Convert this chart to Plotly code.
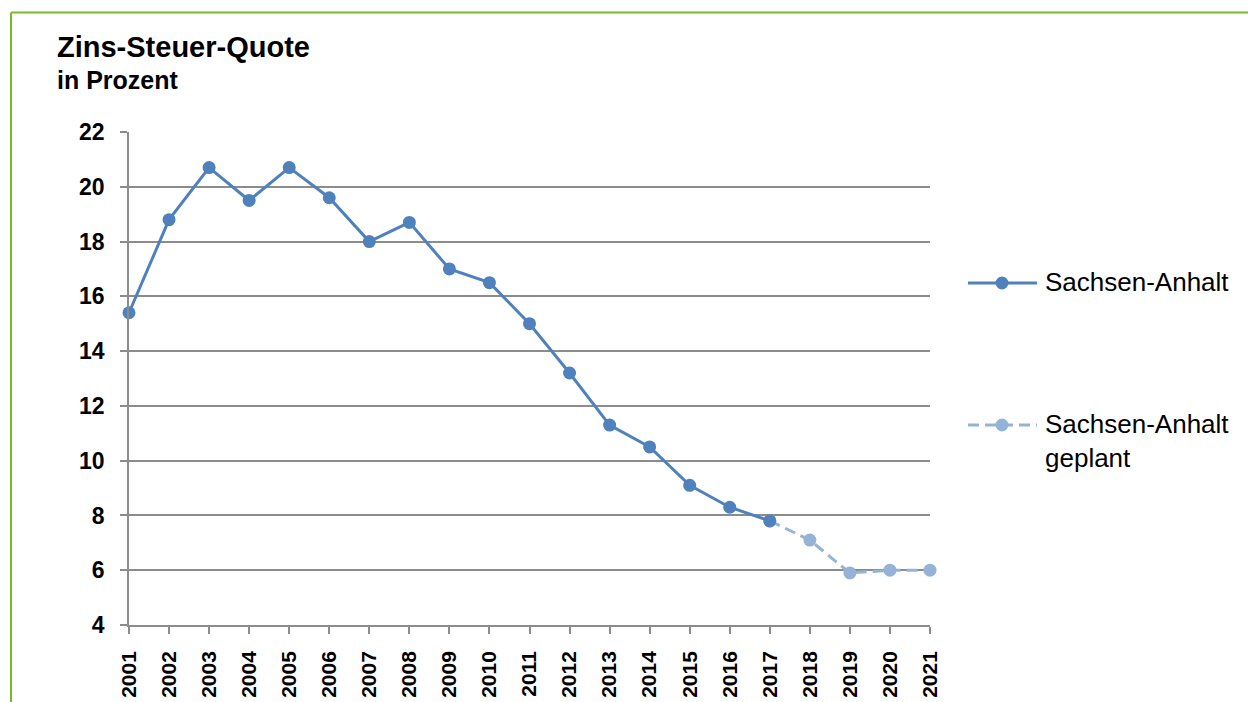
import plotly.graph_objects as go

# Zins-Steuer-Quote Sachsen-Anhalt (in Prozent)
years = list(range(2001, 2022))
year_labels = [str(y) for y in years]

ist_years = list(range(2001, 2018))
ist_values = [15.4, 18.8, 20.7, 19.5, 20.7, 19.6, 18.0, 18.7, 17.0, 16.5,
              15.0, 13.2, 11.3, 10.5, 9.1, 8.3, 7.8]

plan_years = [2017, 2018, 2019, 2020, 2021]
plan_values = [7.8, 7.1, 5.9, 6.0, 6.0]

series_names = ["Sachsen-Anhalt", "Sachsen-Anhalt<br>geplant"]

y_ticks = [4, 6, 8, 10, 12, 14, 16, 18, 20, 22]

# styling
W, H = 1248, 702
ML, MR, MT, MB = 129, 318, 132, 77
BLUE = "#4F81BD"
LIGHT = "#95B3D7"
GRID = "#8C8C8C"
GREEN = "#7AB929"
FONT = "Liberation Sans, Arial, sans-serif"
DASH = "11px,6px"

pw, ph = W - ML - MR, H - MT - MB


def px(x):
    return (x - ML) / pw


def py(y):
    return (H - MB - y) / ph


fig = go.Figure()

fig.add_trace(go.Scatter(
    x=plan_years, y=plan_values, mode="lines+markers", name=series_names[1],
    line=dict(color=LIGHT, width=3, dash=DASH),
    marker=dict(color=LIGHT, size=13), cliponaxis=False, showlegend=False,
))
fig.add_trace(go.Scatter(
    x=ist_years, y=ist_values, mode="lines+markers", name=series_names[0],
    line=dict(color=BLUE, width=3),
    marker=dict(color=BLUE, size=13), cliponaxis=False, showlegend=False,
))

shapes = []
annotations = []

# frame lines (top and left)
shapes.append(dict(type="line", xref="paper", yref="paper",
                   x0=px(11), x1=px(W + 20), y0=py(12.5), y1=py(12.5),
                   line=dict(color=GREEN, width=2)))
shapes.append(dict(type="line", xref="paper", yref="paper",
                   x0=px(11), x1=px(11), y0=py(12.5), y1=py(H + 20),
                   line=dict(color=GREEN, width=2)))

# legend
legend_rows = [(series_names[0], BLUE, "solid", 283),
               (series_names[1], LIGHT, DASH, 425)]
for name, col, dash, yy in legend_rows:
    shapes.append(dict(type="line", xref="paper", yref="paper",
                       x0=px(968), x1=px(1037), y0=py(yy), y1=py(yy),
                       line=dict(color=col, width=3, dash=dash)))
    shapes.append(dict(type="circle", xref="paper", yref="paper",
                       xsizemode="pixel", ysizemode="pixel",
                       xanchor=px(1002), yanchor=py(yy),
                       x0=-6.5, x1=6.5, y0=-6.5, y1=6.5,
                       fillcolor=col, line=dict(color=col, width=0)))
    annotations.append(dict(text=name, xref="paper", yref="paper",
                            x=px(1043), y=py(yy - 18), xanchor="left", yanchor="top",
                            align="left", showarrow=False,
                            font=dict(family=FONT, size=26, color="#000000")))

# titles
annotations.append(dict(text="<b>Zins-Steuer-Quote</b>", xref="paper", yref="paper",
                        x=px(55), y=py(47), xanchor="left", yanchor="middle",
                        showarrow=False, font=dict(family=FONT, size=29, color="#000000")))
annotations.append(dict(text="<b>in Prozent</b>", xref="paper", yref="paper",
                        x=px(55), y=py(80), xanchor="left", yanchor="middle",
                        showarrow=False, font=dict(family=FONT, size=25, color="#000000")))

fig.update_layout(
    width=W, height=H,
    margin=dict(l=ML, r=MR, t=MT, b=MB, pad=0, autoexpand=False),
    paper_bgcolor="white", plot_bgcolor="white",
    showlegend=False,
    shapes=shapes, annotations=annotations,
    font=dict(family=FONT, color="#000000"),
)

fig.update_xaxes(
    range=[2001, 2021], tickmode="array", tickvals=years, ticktext=year_labels,
    tickangle=-90, showgrid=False, zeroline=False, automargin=False,
    showline=True, linecolor=GRID, linewidth=1.5,
    ticks="outside", ticklen=7, tickcolor=GRID, tickwidth=1.5,
    ticklabelstandoff=9,
    tickfont=dict(family=FONT, size=21, color="#000000", weight="bold"),
)
fig.update_yaxes(
    range=[4, 22], tickmode="array", tickvals=y_ticks, automargin=False,
    showgrid=True, gridcolor=GRID, gridwidth=1.5, zeroline=False,
    showline=True, linecolor=GRID, linewidth=1.5,
    ticks="outside", ticklen=7, tickcolor=GRID, tickwidth=1.5,
    ticklabelstandoff=11,
    tickfont=dict(family=FONT, size=23, color="#000000", weight="bold"),
)

fig.write_html("out.html")
